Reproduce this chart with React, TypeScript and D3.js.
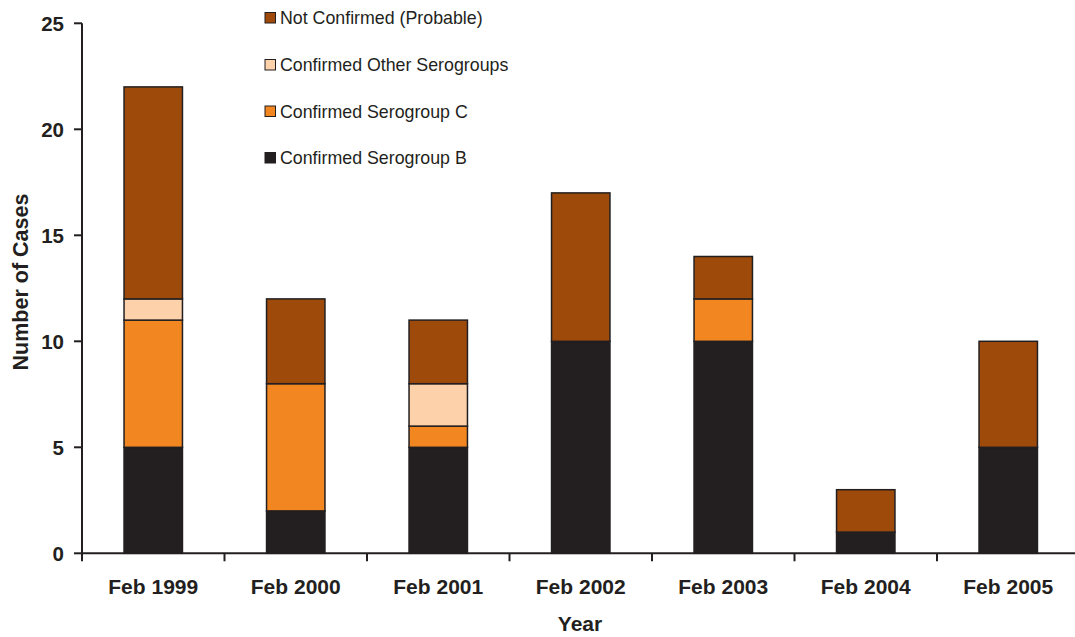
import React from "react";
import * as d3 from "d3";

const years = ["Feb 1999", "Feb 2000", "Feb 2001", "Feb 2002", "Feb 2003", "Feb 2004", "Feb 2005"];
const serogroupB = [5, 2, 5, 10, 10, 1, 5];
const serogroupC = [6, 6, 1, 0, 2, 0, 0];
const otherSerogroups = [1, 0, 2, 0, 0, 0, 0];
const notConfirmed = [10, 4, 3, 7, 2, 2, 5];
const yTicks = [0, 5, 10, 15, 20, 25];

const seriesNames = [
  "Confirmed Serogroup B",
  "Confirmed Serogroup C",
  "Confirmed Other Serogroups",
  "Not Confirmed (Probable)",
];
const seriesColors = ["#231F20", "#F28722", "#FDD2AA", "#9E4A0B"];
const seriesValues = [serogroupB, serogroupC, otherSerogroups, notConfirmed];

const W = 1075;
const H = 637;
const axisX = 82;
const bandW = 142.5;
const y0 = 553.3;
const yTop = 23.3;
const ink = "#231F20";
const font = "Arial, 'Liberation Sans', Helvetica, sans-serif";

export default function App() {
  const x = d3
    .scaleBand<string>()
    .domain(years)
    .range([axisX, axisX + bandW * years.length])
    .paddingInner(0.59)
    .paddingOuter(0.295);
  const band = d3.scaleBand<string>().domain(years).range([axisX, axisX + bandW * years.length]);
  const y = d3.scaleLinear().domain([0, 25]).range([y0, yTop]);

  const rows = years.map((yr, i) => {
    const r: Record<string, number | string> = { year: yr };
    seriesNames.forEach((n, k) => (r[n] = seriesValues[k][i]));
    return r;
  });
  const stacked = d3.stack<Record<string, number | string>>().keys(seriesNames)(rows as any);

  const legendOrder = [3, 2, 1, 0];
  const legendY = [18, 65, 111.5, 158];

  return (
    <svg width={W} height={H} style={{ position: "absolute", left: 0, top: 0 }}>
      <rect width={W} height={H} fill="#fff" />
      {stacked.map((s, k) => (
        <g key={seriesNames[k]}>
          {s.map((d, i) =>
            d[1] - d[0] > 0 ? (
              <rect
                key={i}
                x={x(years[i])}
                width={x.bandwidth()}
                y={y(d[1])}
                height={y(d[0]) - y(d[1])}
                fill={seriesColors[k]}
                stroke={ink}
                strokeWidth={1.5}
              />
            ) : null
          )}
        </g>
      ))}
      {/* y axis */}
      <line x1={axisX} x2={axisX} y1={yTop} y2={y0 + 1} stroke={ink} strokeWidth={2} />
      {yTicks.map((t) => (
        <g key={t}>
          <line x1={axisX - 8} x2={axisX} y1={y(t)} y2={y(t)} stroke={ink} strokeWidth={2} />
          <text
            x={axisX - 18}
            y={y(t)}
            dy="0.36em"
            textAnchor="end"
            fontFamily={font}
            fontWeight="bold"
            fontSize={20.5}
            fill={ink}
          >
            {t}
          </text>
        </g>
      ))}
      {/* x axis */}
      <line x1={axisX} x2={W} y1={y0} y2={y0} stroke={ink} strokeWidth={2} />
      {years.map((yr, i) => (
        <line
          key={"t" + i}
          x1={band(yr)!}
          x2={band(yr)!}
          y1={y0}
          y2={y0 + 8}
          stroke={ink}
          strokeWidth={2}
        />
      ))}
      {years.map((yr) => (
        <text
          key={yr}
          x={band(yr)! + band.bandwidth() / 2}
          y={586}
          dy="0.36em"
          textAnchor="middle"
          fontFamily={font}
          fontWeight="bold"
          fontSize={21}
          fill={ink}
        >
          {yr}
        </text>
      ))}
      <text
        x={580}
        y={623.5}
        dy="0.36em"
        textAnchor="middle"
        fontFamily={font}
        fontWeight="bold"
        fontSize={21}
        fill={ink}
      >
        Year
      </text>
      <text
        transform="translate(20,282) rotate(-90)"
        dy="0.36em"
        textAnchor="middle"
        fontFamily={font}
        fontWeight="bold"
        fontSize={21.5}
        fill={ink}
      >
        Number of Cases
      </text>
      {/* legend */}
      {legendOrder.map((k, j) => (
        <g key={"l" + k}>
          <rect
            x={265}
            y={legendY[j] - 5.5}
            width={10.5}
            height={10.5}
            fill={seriesColors[k]}
            stroke={ink}
            strokeWidth={1}
          />
          <text
            x={280}
            y={legendY[j]}
            dy="0.36em"
            fontFamily={font}
            fontSize={17.8}
            fill={ink}
          >
            {seriesNames[k]}
          </text>
        </g>
      ))}
    </svg>
  );
}
